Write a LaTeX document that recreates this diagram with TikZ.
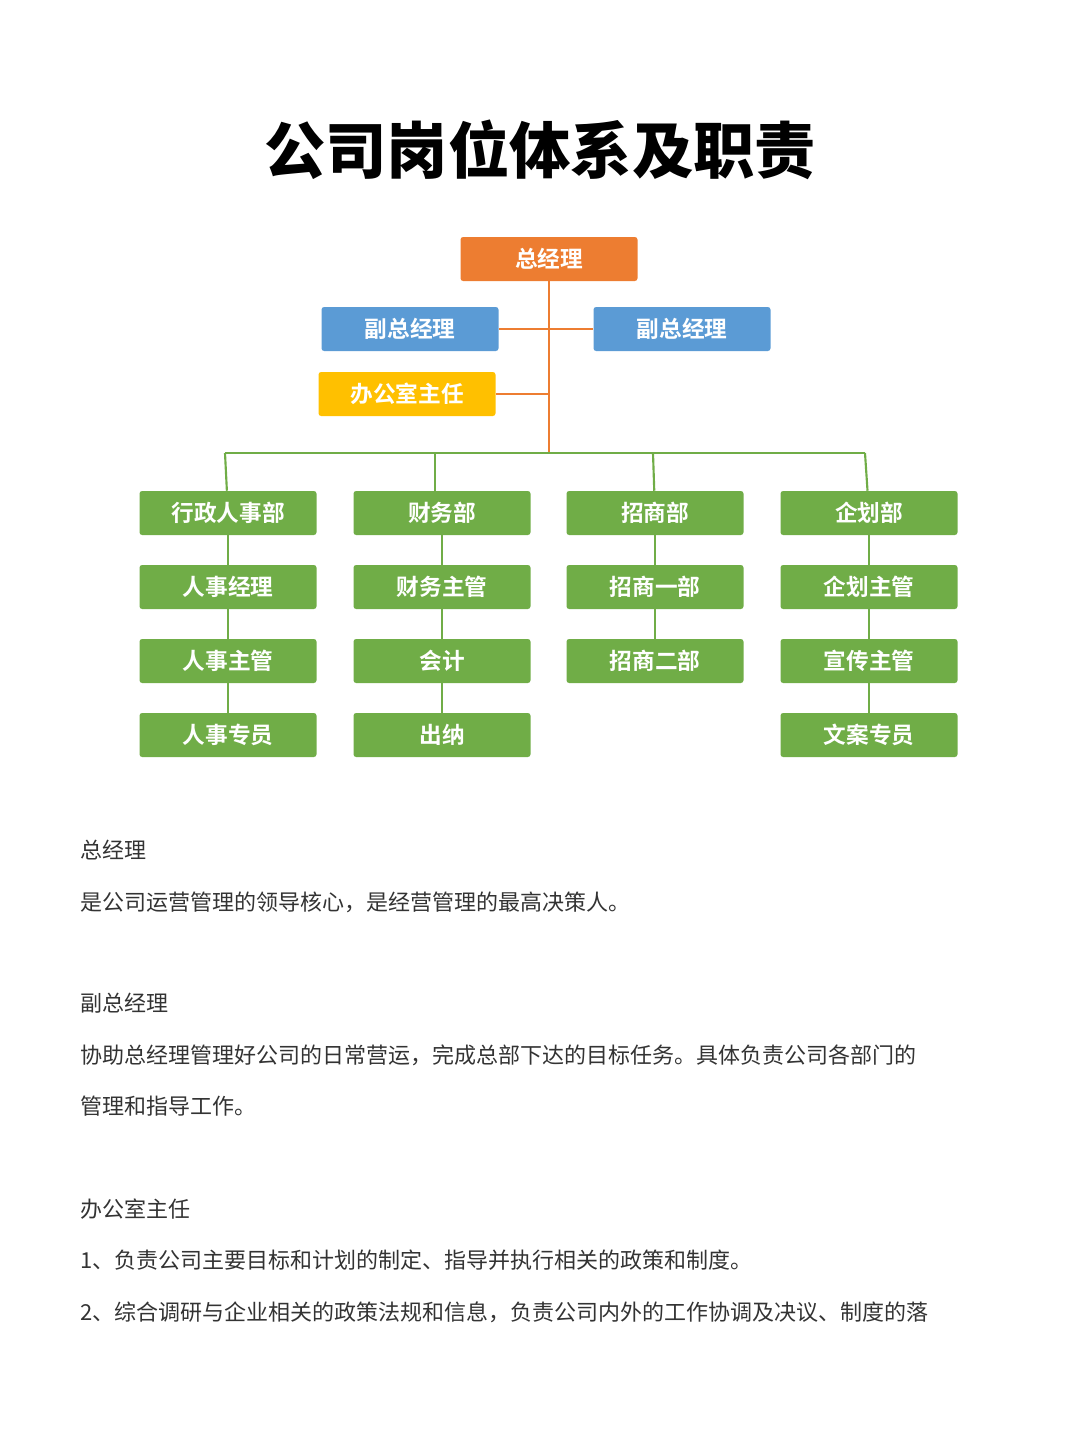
\documentclass[tikz,border=0pt]{standalone}
\usepackage{fontspec}
\newfontfamily\cjk{Noto Sans CJK SC}[BoldFont={Noto Sans CJK SC Bold}]
\newfontfamily\cjkb{Noto Sans CJK SC Black}
\definecolor{og}{HTML}{ED7D31}
\definecolor{bl}{HTML}{5B9BD5}
\definecolor{yl}{HTML}{FFC000}
\definecolor{gr}{HTML}{70AD47}
\definecolor{tx}{HTML}{333333}
\begin{document}
\begin{tikzpicture}[x=0.75pt,y=-0.75pt,
 box/.style={rounded corners=2pt,minimum width=132.75pt,minimum height=33pt,inner sep=0pt,text=white,font=\cjk\bfseries\fontsize{17}{20}\selectfont},
 con/.style={line width=1.6pt},
 body/.style={anchor=west,inner sep=0pt,text=tx,font=\cjk\fontsize{16.5}{20}\selectfont}]
\useasboundingbox (0,0) rectangle (1080,1439);
\node[font=\cjkb\fontsize{46}{50}\selectfont] (title) at (540,150) {公司岗位体系及职责};
\node[box,fill=og] (gm) at (549,259) {总经理};
\node[box,fill=bl] (v1) at (410,329) {副总经理};
\node[box,fill=bl] (v2) at (682,329) {副总经理};
\node[box,fill=yl] (of) at (407,394) {办公室主任};
\coordinate (bus) at (549,453);
\coordinate (b1) at (225,453);\coordinate (b2) at (435,453);\coordinate (b3) at (653,453);\coordinate (b4) at (865,453);
\draw[con,og] (gm) -- (bus);
\draw[con,og] (v1.east) -- (v2.west);
\draw[con,og] (of.east) -- (549,394);
\draw[con,gr] (b1) -- (b4);
\foreach \n/\x/\bx/\labs in {1/228/225/{行政人事部,人事经理,人事主管,人事专员},2/442/435/{财务部,财务主管,会计,出纳},3/655/653/{招商部,招商一部,招商二部},4/869/866/{企划部,企划主管,宣传主管,文案专员}}{
  \foreach \t [count=\i] in \labs {
    \node[box,fill=gr] (c\n r\i) at (\x,{513+74*(\i-1)}) {\t};
  }
}
\foreach \n in {1,2,4}{\foreach \i/\j in {1/2,2/3,3/4}{\draw[con,gr] (c\n r\i) -- (c\n r\j);}}
\draw[con,gr] (c3r1) -- (c3r2); \draw[con,gr] (c3r2) -- (c3r3);
\draw[con,gr] (b1) -- (c1r1); \draw[con,gr] (b2) -- (b2|-c2r1.north);
\draw[con,gr] (b3) -- (c3r1); \draw[con,gr] (b4) -- (c4r1);
\node[body] (h1) at (80,850) {总经理};
\node[body] (p1) at (80,902) {是公司运营管理的领导核心，是经营管理的最高决策人。};
\node[body] (h2) at (80,1003) {副总经理};
\node[body] (p2) at (80,1055) {协助总经理管理好公司的日常营运，完成总部下达的目标任务。具体负责公司各部门的};
\node[body] (p3) at (80,1106) {管理和指导工作。};
\node[body] (h3) at (80,1209) {办公室主任};
\node[body] (p4) at (80,1260) {1、负责公司主要目标和计划的制定、指导并执行相关的政策和制度。};
\node[body] (p5) at (80,1312) {2、综合调研与企业相关的政策法规和信息，负责公司内外的工作协调及决议、制度的落};
\end{tikzpicture}
\end{document}
